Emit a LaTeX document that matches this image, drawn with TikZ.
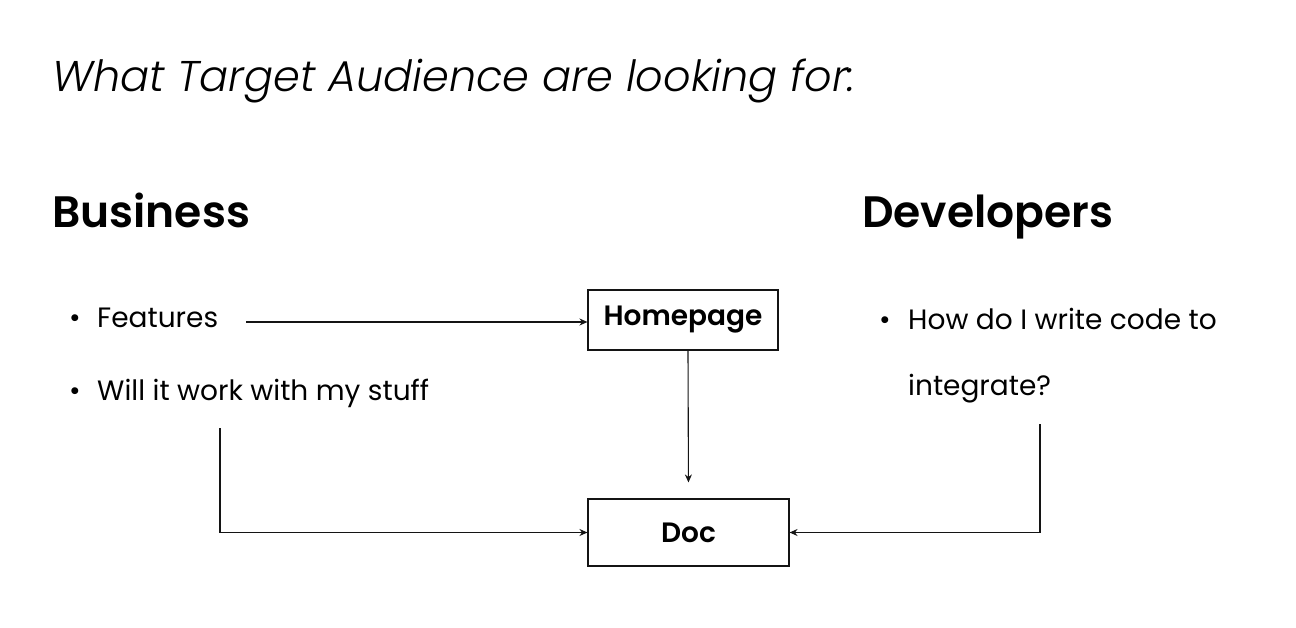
\documentclass[tikz,border=0pt]{standalone}
\usepackage{fontspec}
\usepackage{xcolor}
\usetikzlibrary{arrows.meta,positioning}
\setmainfont{Poppins}
\newfontfamily\titlefont{Poppins Light Italic}
\newfontfamily\semifont{Poppins SemiBold}
\definecolor{tagInk}{RGB}{0,0,0}
\definecolor{tagLine}{RGB}{20,20,20}

\tikzset{
    headtxt/.style={anchor=base west, inner sep=0pt, font=\semifont\fontsize{44}{52}\selectfont},
    itemtxt/.style={anchor=base west, inner sep=0pt, font=\fontsize{28}{34}\selectfont},
    pagebox/.style={draw=tagLine, line width=1.1pt, inner sep=0pt,
        font=\semifont\fontsize{28}{34}\selectfont},
    link/.style={draw=tagLine, line width=1.1pt, -{Stealth[length=8pt,width=7pt]}}
}

\begin{document}
\begin{tikzpicture}[x=1pt,y=-1pt]
    % frame
    \useasboundingbox (0,0) rectangle (1296,628);

    % title
    \node[anchor=base west, inner sep=0pt, font=\titlefont\fontsize{43}{52}\selectfont]
        (title) at (52,92) {What Target Audience are looking for:};

    % headings
    \node[headtxt] (biz) at (52,228) {Business};
    \node[headtxt] (dev) at (862,228) {Developers};

    % bullet items
    \node[itemtxt] (feat) at (97,327) {Features};
    \node[itemtxt] (stuff) at (97,400) {Will it work with my stuff};
    \node[itemtxt] (code) at (908,330) {How do I write code to};
    \node[itemtxt] (integ) at (908,395) {integrate?};
    \node[itemtxt, anchor=base] (dotA) at (75,327) {•};
    \node[itemtxt, anchor=base] (dotB) at (75,400) {•};
    \node[itemtxt, anchor=base] (dotC) at (885,330) {•};

    % boxes
    \node[pagebox, minimum width=190pt, minimum height=60pt] (home) at (683,320) {Homepage};
    \node[pagebox, minimum width=201pt, minimum height=67pt] (doc) at (688.5,532.5) {Doc};

    % free ends
    \coordinate (featend) at (246,322);
    \coordinate (stuffend) at (220,428);
    \coordinate (integend) at (1040,424);

    % connectors
    \draw[link] (featend) -- (featend -| home.west);
    \draw[link, shorten >=16pt] (home.south -| 688,0) -- (doc.north);
    \draw[link] (stuffend) |- (doc.west);
    \draw[link] (integend) |- (doc.east);
\end{tikzpicture}
\end{document}
